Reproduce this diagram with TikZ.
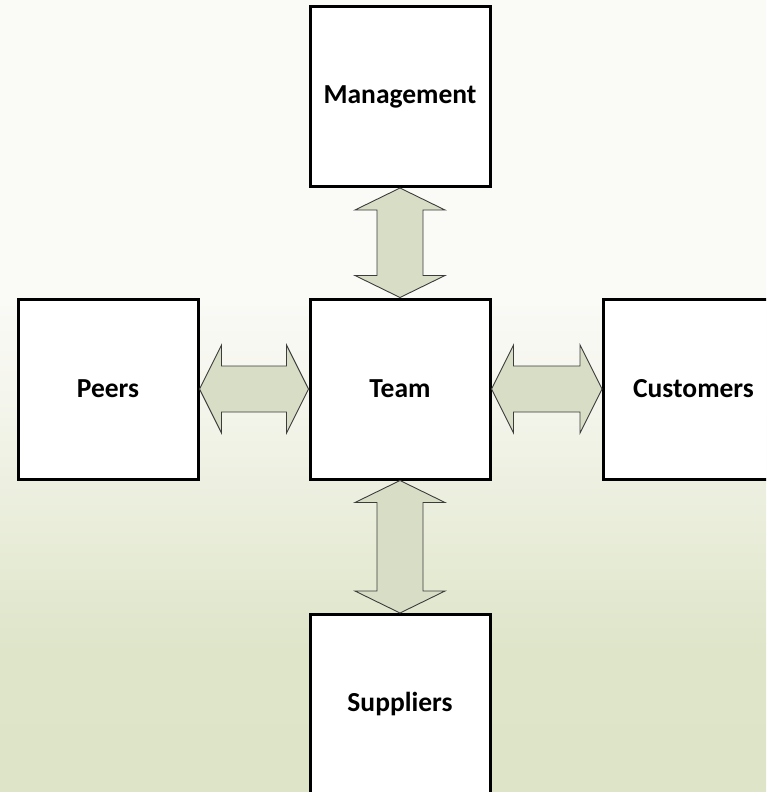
\documentclass[tikz,border=0pt]{standalone}
\usepackage{fontspec}
\setmainfont{Carlito}
\usetikzlibrary{calc}
\definecolor{bgtop}{RGB}{250,250,246}
\definecolor{bgmid}{RGB}{244,245,236}
\definecolor{bglow}{RGB}{230,235,213}
\definecolor{bgbot}{RGB}{221,228,199}
\definecolor{arrowfill}{RGB}{216,222,198}
\definecolor{arrowline}{RGB}{60,60,60}
% page background: pale at the top, fading into green below
\pgfdeclareverticalshading{pagebg}{100bp}{%
  color(0bp)=(bgbot); color(25bp)=(bgbot); color(34bp)=(bgbot!85!bglow);
  color(39.6bp)=(bglow); color(49.7bp)=(bgmid); color(56bp)=(bgtop);
  color(75bp)=(bgtop); color(100bp)=(bgtop)}
\tikzset{
  party/.style={draw=black, line width=3pt, fill=white,
    minimum width=180pt, minimum height=180pt,
    font=\fontsize{27.5}{33}\selectfont\bfseries},
  link/.style={draw=arrowline, line width=0.9pt, fill=arrowfill, line join=miter}
}
\begin{document}
\begin{tikzpicture}[x=1pt,y=-1pt]
  \useasboundingbox (0,0) rectangle (766,792);
  \clip (0,0) rectangle (766,792);
  \fill[shading=pagebg] (0,0) rectangle (766,792);

  \node[party] (mgmt) at (400,96.5) {Management};
  \node[party] (team) at (400,389) {Team};
  \node[party] (peers) at (108,389) {Peers};
  \node[party] (cust) at (693.5,389) {Customers};
  \node[party] (supp) at (400,704.5) {Suppliers};

  % two-headed block arrows between the boxes
  \draw[link] (mgmt.south) -- ++(45,22) -- ++(-22,0)
    -- ($(team.north)+(23,-22)$) -- ++(22,0) -- (team.north)
    -- ++(-45,-22) -- ++(22,0) -- ($(mgmt.south)+(-23,22)$) -- ++(-22,0) -- cycle;
  \draw[link] (team.south) -- ++(45,22) -- ++(-22,0)
    -- ($(supp.north)+(23,-22)$) -- ++(22,0) -- (supp.north)
    -- ++(-45,-22) -- ++(22,0) -- ($(team.south)+(-23,22)$) -- ++(-22,0) -- cycle;
  \draw[link] (peers.east) -- ++(22,-44) -- ++(0,21)
    -- ($(team.west)+(-22,-23)$) -- ++(0,-21) -- (team.west)
    -- ++(-22,44) -- ++(0,-21) -- ($(peers.east)+(22,23)$) -- ++(0,21) -- cycle;
  \draw[link] (team.east) -- ++(22,-44) -- ++(0,21)
    -- ($(cust.west)+(-22,-23)$) -- ++(0,-21) -- (cust.west)
    -- ++(-22,44) -- ++(0,-21) -- ($(team.east)+(22,23)$) -- ++(0,21) -- cycle;
\end{tikzpicture}
\end{document}
